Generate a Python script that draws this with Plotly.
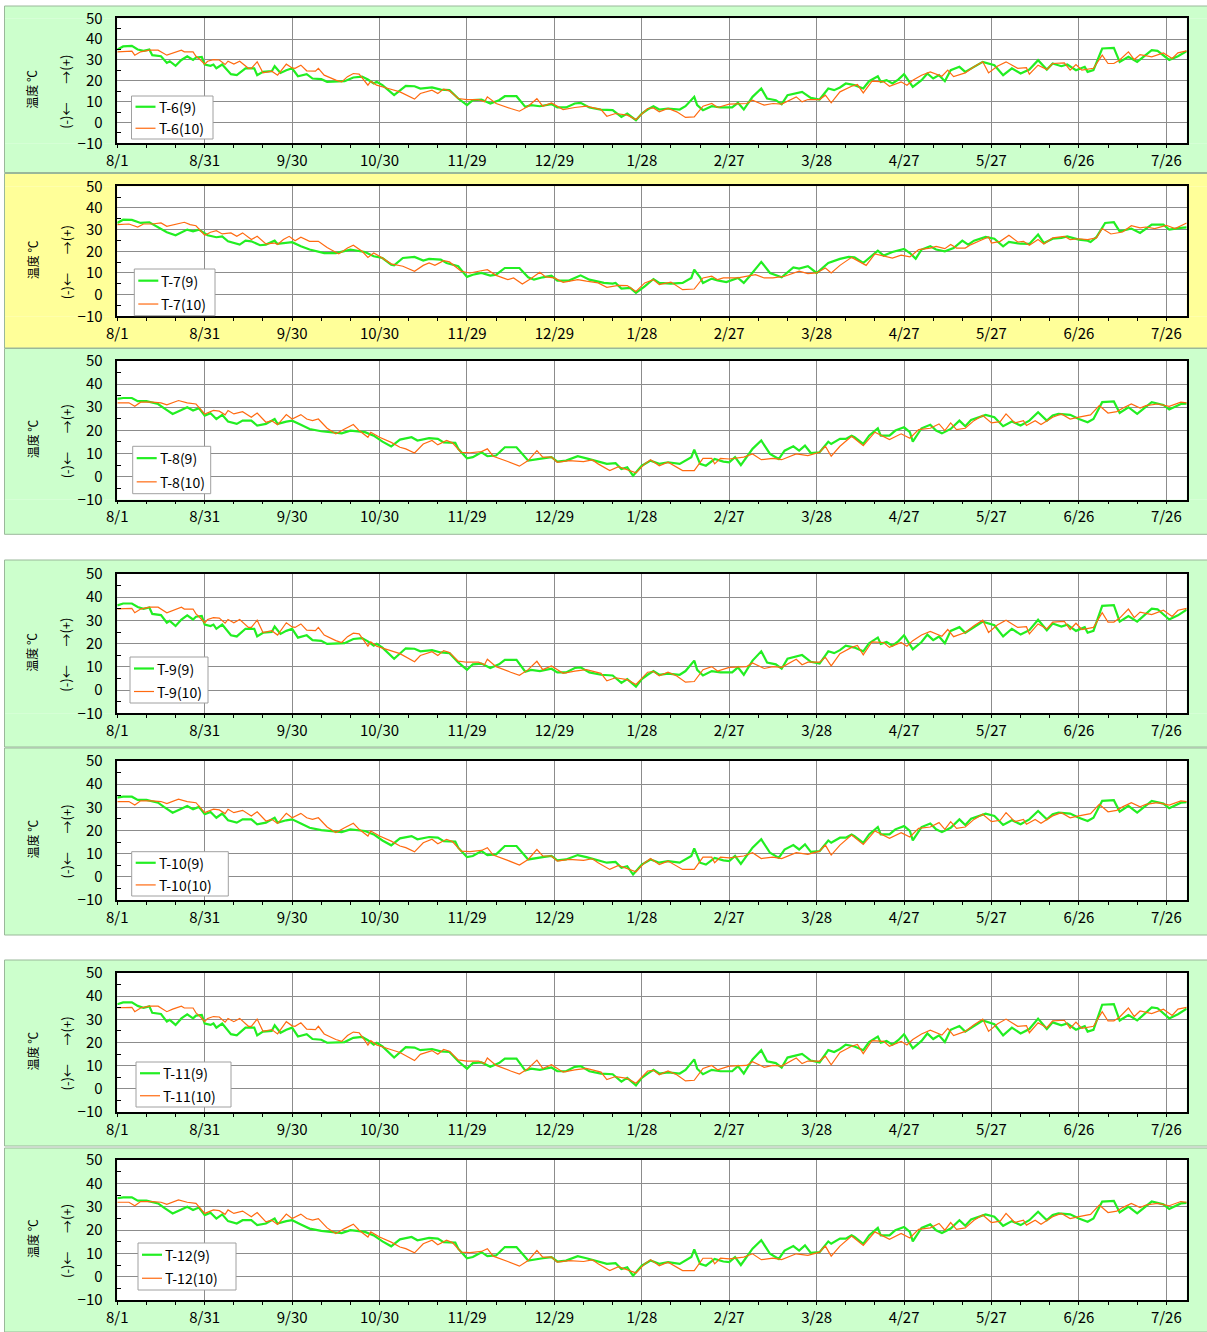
import pandas as pd
import plotly.graph_objects as go

# ---------------------------------------------------------------
# Daily temperature records (°C), 8/1 .. 7/31, sensor pairs
# day = days elapsed since 8/1
# ---------------------------------------------------------------
START = pd.Timestamp("2011-08-01")

t6_9_day = [0, 2, 5, 7, 9, 11, 12, 15, 17, 18, 20, 22, 24, 26, 27, 29, 30, 32, 33, 34, 36, 39, 41, 44, 47, 48, 50, 53, 54, 56, 58, 60, 62, 65, 67, 70, 72, 75, 78, 81, 84, 86, 88, 89, 91, 95, 97, 99, 102, 104, 108, 111, 114, 117, 120, 122, 125, 128, 131, 133, 137, 140, 142, 145, 149, 151, 154, 157, 159, 162, 166, 170, 173, 175, 178, 180, 182, 184, 186, 189, 193, 195, 198, 199, 201, 204, 207, 211, 213, 215, 218, 221, 223, 226, 228, 230, 235, 238, 241, 244, 246, 248, 250, 253, 256, 258, 261, 262, 264, 266, 268, 270, 273, 276, 278, 280, 282, 284, 286, 289, 291, 294, 297, 301, 304, 307, 310, 313, 316, 319, 321, 324, 326, 329, 332, 333, 335, 338, 342, 344, 347, 350, 355, 357, 361, 364, 367]
t6_9_temp = [35, 36.5, 36.8, 35, 34.4, 35, 32.3, 31.8, 28.6, 29.4, 27.2, 30, 31.8, 30, 31.2, 31.5, 27.8, 27.2, 27.8, 26, 27.8, 23.2, 22.7, 26, 26, 22.7, 24.3, 24.6, 27, 23.8, 25.1, 26, 22.2, 23.2, 21.1, 20.8, 19.5, 19.8, 19.8, 21.6, 22, 20.6, 18.7, 19.5, 17.9, 13.1, 15.2, 17.6, 17.4, 16.3, 16.8, 15.8, 15.5, 11.5, 8.3, 10.7, 11, 9.1, 10.7, 12.6, 12.6, 7.5, 8.3, 7.8, 8.8, 7.2, 7.2, 9.1, 9.4, 7.2, 6.2, 5.9, 2.7, 4.3, 1.1, 4.3, 6.2, 7.8, 6.2, 6.7, 6.2, 7.8, 12.3, 8.3, 5.9, 7.8, 7.2, 7.2, 9.4, 6.2, 12.3, 16.3, 11.5, 10.7, 8.8, 13.1, 14.7, 11.8, 11, 16.3, 15.5, 16.8, 18.7, 17.9, 16.3, 19.8, 22.2, 19.5, 20.3, 18.7, 20.6, 23.2, 17.1, 20.3, 23.5, 21.1, 22.7, 19.8, 25.1, 26.7, 24.3, 26.7, 29.1, 27.5, 22.7, 26, 23.5, 25.4, 29.9, 25.4, 28.3, 27, 27.8, 25.1, 26.7, 24.3, 25.1, 35.5, 35.8, 29.1, 31.5, 29.1, 34.7, 34.4, 30, 31.8, 34.2]

t6_10_day = [0, 3, 5, 6, 8, 11, 14, 17, 19, 22, 23, 26, 27, 28, 30, 31, 33, 35, 37, 38, 40, 42, 45, 46, 48, 50, 53, 55, 58, 60, 61, 63, 65, 68, 69, 71, 75, 77, 79, 81, 83, 85, 86, 87, 89, 93, 97, 102, 104, 108, 110, 112, 114, 117, 120, 124, 126, 127, 130, 135, 138, 141, 144, 146, 149, 153, 157, 161, 166, 168, 171, 175, 178, 182, 184, 186, 189, 192, 195, 198, 201, 204, 206, 210, 216, 218, 222, 225, 228, 233, 235, 237, 241, 243, 245, 248, 252, 254, 256, 259, 263, 265, 269, 271, 273, 276, 279, 283, 285, 287, 291, 294, 297, 299, 302, 305, 309, 312, 313, 316, 319, 321, 325, 327, 329, 331, 335, 338, 340, 342, 344, 347, 349, 351, 355, 359, 362, 364, 367]
t6_10_temp = [33.9, 34.2, 34.2, 32.3, 33.9, 34.7, 34.7, 32.3, 33.4, 34.7, 33.9, 33.9, 31.8, 30.7, 28, 29.4, 30.2, 30, 27.8, 29.4, 28, 29.4, 26, 26, 29.1, 23.8, 24.6, 22.7, 28, 26.2, 26, 27.5, 24.8, 24.6, 26, 22.7, 20.3, 19.5, 22, 23.5, 23.2, 19.8, 17.9, 19.8, 17.9, 16.3, 14.7, 11.2, 13.9, 15.5, 13.9, 16, 15.2, 11.5, 11, 11, 9.9, 12.3, 9.1, 6.7, 5.4, 7.8, 11.4, 7.8, 9.4, 6.2, 7.2, 7.8, 6.2, 3, 4.3, 3.5, 1.4, 6.7, 7, 5.1, 6.7, 5.1, 2.4, 2.7, 7.8, 9.1, 7.2, 8.8, 9.1, 10.7, 8.3, 9.1, 8.8, 12.3, 9.9, 11, 11, 13.1, 9.4, 14.7, 17.4, 18.2, 14.2, 19.8, 19.5, 17.4, 19.5, 17.9, 20.3, 22.7, 24.3, 22.2, 25.1, 22, 23.8, 26.7, 29.1, 23.8, 27, 29.1, 26, 26.3, 23.2, 27.5, 25.4, 28.3, 28.6, 25.1, 27.8, 25.1, 26, 32.3, 28.3, 28.3, 30, 33.9, 30.2, 32.6, 31.5, 33.4, 30.7, 33.4, 34.4]

t7_9_day = [0, 2, 5, 8, 11, 14, 17, 20, 22, 24, 26, 28, 31, 34, 36, 38, 42, 44, 46, 49, 51, 54, 55, 58, 60, 63, 66, 71, 75, 80, 85, 88, 91, 94, 95, 98, 102, 105, 107, 111, 113, 117, 120, 122, 125, 128, 130, 133, 138, 141, 143, 146, 149, 151, 155, 159, 162, 167, 170, 171, 173, 176, 178, 181, 184, 186, 190, 194, 197, 198, 200, 201, 204, 206, 209, 213, 215, 217, 221, 224, 228, 232, 234, 237, 240, 244, 248, 251, 253, 256, 259, 261, 263, 266, 270, 272, 274, 276, 279, 281, 284, 287, 290, 292, 294, 298, 301, 304, 306, 310, 313, 316, 318, 321, 324, 326, 330, 333, 334, 336, 339, 342, 344, 348, 351, 355, 359, 361, 365, 367]
t7_9_temp = [33.1, 34.6, 34.5, 33.1, 33.4, 31.1, 28.8, 27.4, 28.9, 30, 29.2, 30, 27.4, 26.5, 26.9, 24.6, 23.1, 24.9, 24.6, 22.8, 23.1, 24.9, 23.4, 23.8, 24.2, 22.3, 20.8, 19.2, 19.2, 20.8, 19.7, 17.7, 16.9, 13.8, 13.5, 16.9, 17.4, 15.7, 16.5, 16.2, 14.6, 13.1, 8.2, 9.2, 10, 8.8, 9.2, 12.3, 12.3, 8, 6.9, 8, 8.8, 6.5, 6.5, 8.9, 6.9, 5.4, 5.1, 5.4, 2.8, 3.1, 0.8, 3.8, 7.2, 5.4, 5.1, 5.4, 7.7, 11.5, 8, 5.4, 7.4, 6.6, 5.8, 7.7, 5.4, 8.5, 15.1, 10, 8, 12.6, 12, 13.1, 10, 14.6, 16.5, 17.4, 17.2, 14.6, 18, 20.3, 18, 19.7, 21.1, 19.2, 16.6, 20.8, 22.3, 20.8, 20, 21.5, 24.9, 23.1, 24.9, 26.6, 25.8, 22.3, 24.3, 23.5, 23.4, 27.7, 23.8, 25.8, 26.2, 26.9, 25.4, 24.9, 24.3, 26.5, 33.1, 33.5, 29.2, 30.5, 28.5, 32.3, 32.3, 30, 30.8, 31]

t7_10_day = [0, 4, 7, 9, 12, 15, 17, 20, 23, 25, 27, 30, 32, 34, 36, 39, 41, 43, 46, 48, 51, 54, 55, 57, 59, 61, 63, 66, 69, 72, 76, 79, 81, 84, 86, 88, 90, 94, 98, 102, 105, 107, 109, 112, 114, 118, 121, 124, 127, 130, 134, 136, 139, 142, 145, 147, 150, 153, 158, 161, 165, 168, 172, 175, 178, 181, 184, 186, 190, 194, 198, 201, 204, 206, 208, 213, 216, 219, 222, 225, 229, 234, 237, 240, 243, 245, 248, 252, 254, 257, 260, 263, 266, 269, 272, 275, 279, 281, 284, 286, 288, 291, 293, 296, 299, 300, 303, 306, 309, 311, 313, 316, 318, 321, 325, 327, 330, 333, 336, 338, 341, 345, 348, 351, 353, 356, 360, 363, 367]
t7_10_temp = [32.3, 32.6, 31.2, 32.6, 32.6, 33.1, 31.5, 32.6, 33.4, 32.3, 31.8, 27.4, 28.8, 29.5, 28, 28.5, 26.9, 28.5, 25.4, 26.9, 23.4, 23.8, 23.1, 25.4, 26.9, 24.9, 26.5, 24.6, 24.6, 21.8, 18.8, 21.5, 22.8, 20, 17.2, 19.2, 17.7, 14.2, 13.1, 10.8, 13.5, 14.6, 13.5, 15.7, 15.1, 10.8, 10, 10.8, 11.5, 8.9, 6.9, 7.7, 4.9, 7.4, 10.3, 8.2, 7.7, 5.7, 6.9, 6.2, 5.4, 3.4, 4.3, 4.2, 1.5, 5.4, 6.9, 4.6, 5.8, 2.3, 2.6, 7.7, 8.5, 6.9, 7.7, 7.7, 8.5, 9.2, 7.7, 7.7, 8.5, 10.8, 9.7, 10, 12.3, 10, 13.5, 17.2, 15.7, 13.5, 18.8, 17.7, 16.9, 18.2, 17.4, 20.8, 21.5, 22.3, 21.2, 23.1, 21.5, 21.5, 23.1, 24.9, 26.6, 23.8, 24.6, 27.4, 24.3, 24.6, 22.8, 25.4, 23.4, 26.2, 26.9, 25.4, 25.8, 25.4, 26.2, 30.5, 28, 28.9, 31.8, 30.8, 31.2, 30.5, 32, 30.5, 33.1]

t8_9_day = [0, 2, 5, 7, 10, 14, 16, 18, 19, 22, 24, 26, 28, 30, 32, 34, 36, 38, 41, 43, 46, 48, 51, 54, 55, 58, 60, 63, 66, 70, 73, 77, 80, 85, 88, 91, 94, 97, 101, 103, 107, 110, 112, 116, 117, 120, 122, 125, 127, 130, 133, 137, 141, 144, 146, 149, 151, 154, 158, 161, 165, 168, 171, 173, 175, 177, 180, 183, 186, 189, 193, 197, 198, 200, 202, 205, 208, 210, 212, 214, 218, 221, 224, 227, 229, 232, 234, 236, 238, 241, 244, 245, 248, 250, 252, 253, 256, 258, 261, 262, 265, 267, 270, 272, 273, 276, 279, 281, 283, 286, 289, 291, 293, 298, 301, 304, 307, 310, 313, 316, 319, 321, 323, 327, 330, 333, 335, 338, 342, 344, 347, 350, 355, 359, 361, 365, 367]
t8_9_temp = [33.6, 34, 34, 32.6, 32.6, 31.4, 29.6, 27.8, 27.1, 28.8, 30, 28.6, 29.6, 26.4, 27.4, 24.9, 26.7, 23.8, 22.8, 24.2, 24.2, 22.1, 22.8, 24.9, 22.8, 23.8, 24.2, 22.4, 20.6, 19.6, 19.2, 18.7, 19.9, 19.2, 17.7, 15.1, 13, 16, 17, 15.6, 16.6, 16.3, 14.8, 14.6, 12, 7.9, 8.4, 10.5, 8.8, 9.1, 12.7, 12.7, 6.9, 7.6, 7.9, 8.4, 6.5, 6.9, 8.8, 7.9, 6.5, 5.5, 5.8, 3.3, 4, 0.4, 4.7, 6.9, 5.5, 6.2, 5.5, 8.4, 11.7, 5.5, 4.7, 7.6, 6.5, 6.2, 8.4, 5, 12, 15.6, 9.8, 7.6, 11.2, 13.1, 11.2, 13.4, 10.2, 10.5, 15.1, 14.1, 16.3, 16.3, 17.7, 17, 14.1, 17.7, 20.9, 17.7, 17.7, 19.9, 21.3, 19.2, 15.1, 20.9, 22.4, 19.9, 18.7, 20.6, 24.2, 21.8, 24.5, 26.7, 25.7, 21.8, 23.8, 22.1, 24.2, 27.8, 24.2, 26.4, 27.1, 26.7, 24.9, 23.5, 24.9, 32.2, 32.5, 27.5, 30, 27.1, 32.2, 31, 29, 31.4, 31.6]

t8_10_day = [0, 4, 6, 8, 12, 15, 17, 21, 24, 27, 30, 33, 35, 37, 38, 40, 43, 46, 48, 51, 53, 55, 58, 60, 63, 65, 67, 69, 72, 75, 78, 81, 83, 86, 87, 90, 94, 97, 99, 102, 105, 108, 110, 113, 115, 118, 121, 125, 127, 129, 134, 138, 141, 144, 146, 149, 151, 155, 160, 163, 165, 169, 172, 174, 178, 181, 183, 186, 189, 194, 198, 201, 204, 205, 207, 210, 213, 215, 218, 221, 225, 228, 233, 237, 241, 243, 245, 248, 252, 256, 260, 265, 269, 272, 275, 279, 282, 284, 286, 288, 291, 294, 297, 300, 303, 305, 308, 311, 312, 315, 317, 321, 324, 327, 330, 334, 337, 340, 343, 345, 348, 351, 353, 357, 361, 365, 367]
t8_10_temp = [31.9, 31.9, 30.4, 32.2, 32.2, 31.9, 31, 32.9, 31.9, 31.4, 27.1, 28.6, 28.3, 26.7, 28.6, 27.1, 28.1, 25.7, 27.5, 23.5, 24.2, 22.4, 26.8, 24.9, 26.8, 24.9, 24.2, 24.9, 20.9, 18.5, 20.6, 22.5, 19.9, 17, 19.2, 17, 14.8, 12.7, 12, 10.2, 14.1, 15.6, 13.7, 15.6, 14.6, 10.5, 10.3, 10.8, 12, 8.8, 6.5, 4.5, 6.9, 11.2, 8.4, 8.4, 6.2, 6.9, 6.5, 7.2, 5.5, 2.6, 4.3, 3.3, 1.6, 5.5, 7.3, 4.7, 6.2, 2.6, 2.6, 7.9, 7.9, 5.5, 7.9, 7.6, 7.9, 8.4, 9.8, 7.3, 7.9, 7.3, 9.8, 9.1, 10.5, 13.1, 8.8, 13.1, 17.4, 13.4, 19.2, 16, 18.5, 16.6, 20.3, 20.9, 22.8, 19.9, 23.2, 20.3, 20.9, 24.2, 26.4, 23.2, 23.8, 27.1, 23.2, 24.2, 22.1, 24.2, 22.5, 25.7, 27.1, 24.9, 25.7, 26.7, 30.7, 27.5, 28.1, 29.6, 31.4, 29.6, 30.7, 31.4, 30.4, 32.2, 31.9]

t9_9_day = list(t6_9_day)
t9_9_temp = [36.5, 37.3, 37.3, 35.8, 35, 35.6, 32.8, 32.3, 29, 29.8, 27.6, 30.4, 32.2, 30.4, 31.6, 31.9, 28.2, 27.6, 28.2, 26.4, 28.2, 23.6, 23.1, 26.4, 26.4, 23.1, 24.7, 25, 27.4, 24.2, 25.5, 26.4, 22.6, 23.6, 21.5, 21.2, 19.9, 20.2, 20.2, 22, 22.4, 21, 19.1, 19.9, 18.3, 13.5, 15.6, 18, 17.8, 16.7, 17.2, 16.2, 15.9, 11.9, 8.7, 11.1, 11.4, 9.5, 11.1, 13, 13, 7.9, 8.7, 8.2, 9.2, 7.6, 7.6, 9.5, 9.8, 7.6, 6.6, 6.3, 3.1, 4.7, 1.5, 4.7, 6.6, 8.2, 6.6, 7.1, 6.6, 8.2, 12.7, 8.7, 6.3, 8.2, 7.6, 7.6, 9.8, 6.6, 12.7, 16.7, 11.9, 11.1, 9.2, 13.5, 15.1, 12.2, 11.4, 16.7, 15.9, 17.2, 19.1, 18.3, 16.7, 20.2, 22.6, 19.9, 20.7, 19.1, 21, 23.6, 17.5, 20.7, 23.9, 21.5, 23.1, 20.2, 25.5, 27.1, 24.7, 27.1, 29.5, 27.9, 23.1, 26.4, 23.9, 25.8, 30.3, 25.8, 28.7, 27.4, 28.2, 25.5, 27.1, 24.7, 25.5, 36.3, 36.6, 29.5, 31.9, 29.5, 35.1, 34.8, 30.4, 32.2, 34.6]
t9_10_day = list(t6_10_day)
t9_10_temp = [35, 35.2, 35.2, 33.3, 34.9, 35.7, 35.7, 33.3, 34.4, 35.7, 34.9, 34.9, 32.8, 31.7, 29, 30.4, 31.2, 31, 28.8, 30.4, 29, 30.4, 27, 27, 30.1, 24.8, 25.6, 23.7, 29, 27.2, 27, 28.5, 25.8, 25.6, 27, 23.7, 21.3, 20.5, 23, 24.5, 24.2, 20.8, 18.9, 20.8, 18.9, 17.3, 15.7, 12.2, 14.9, 16.5, 14.9, 17, 16.2, 12.5, 12, 12, 10.9, 13.3, 10.1, 7.7, 6.4, 8.8, 12.4, 8.8, 10.4, 7.2, 8.2, 8.8, 7.2, 4, 5.3, 4.5, 2.4, 7.7, 8, 6.1, 7.7, 6.1, 3.4, 3.7, 8.8, 10.1, 8.2, 9.8, 10.1, 11.7, 9.3, 10.1, 9.8, 13.3, 10.9, 12, 12, 14.1, 10.4, 15.7, 18.4, 19.2, 15.2, 20.8, 20.5, 18.4, 20.5, 18.9, 21.3, 23.7, 25.3, 23.2, 26.1, 23, 24.8, 27.7, 30.1, 24.8, 28, 30.1, 27, 27.3, 24.2, 28.5, 26.4, 29.3, 29.6, 26.1, 28.8, 26.1, 27, 33.3, 29.3, 29.3, 31, 34.9, 31.2, 33.6, 32.5, 34.4, 31.7, 34.4, 35.2]

t10_9_day = list(t8_9_day)
t10_9_temp = [34.2, 34.6, 34.6, 33.2, 33.2, 32, 30.2, 28.4, 27.7, 29.4, 30.6, 29.2, 30.2, 27, 28, 25.5, 27.3, 24.4, 23.4, 24.8, 24.8, 22.7, 23.4, 25.5, 23.4, 24.4, 24.8, 23, 21.2, 20.2, 19.8, 19.3, 20.5, 19.8, 18.3, 15.7, 13.6, 16.6, 17.6, 16.2, 17.2, 16.9, 15.4, 15.2, 12.6, 8.5, 9, 11.1, 9.4, 9.7, 13.3, 13.3, 7.5, 8.2, 8.5, 9, 7.1, 7.5, 9.4, 8.5, 7.1, 6.1, 6.4, 3.9, 4.6, 1, 5.3, 7.5, 6.1, 6.8, 6.1, 9, 12.3, 6.1, 5.3, 8.2, 7.1, 6.8, 9, 5.6, 12.6, 16.2, 10.4, 8.2, 11.8, 13.7, 11.8, 14, 10.8, 11.1, 15.7, 14.7, 16.9, 16.9, 18.3, 17.6, 14.7, 18.3, 21.5, 18.3, 18.3, 20.5, 21.9, 19.8, 15.7, 21.5, 23, 20.5, 19.3, 21.2, 24.8, 22.4, 25.1, 27.3, 26.3, 22.4, 24.4, 22.7, 24.8, 28.4, 24.8, 27, 27.7, 27.3, 25.5, 24.1, 25.5, 32.8, 33.1, 28.1, 30.6, 27.7, 32.8, 31.6, 29.6, 32, 32.2]
t10_10_day = list(t8_10_day)
t10_10_temp = [32.5, 32.5, 31, 32.8, 32.8, 32.5, 31.6, 33.5, 32.5, 32, 27.7, 29.2, 28.9, 27.3, 29.2, 27.7, 28.7, 26.3, 28.1, 24.1, 24.8, 23, 27.4, 25.5, 27.4, 25.5, 24.8, 25.5, 21.5, 19.1, 21.2, 23.1, 20.5, 17.6, 19.8, 17.6, 15.4, 13.3, 12.6, 10.8, 14.7, 16.2, 14.3, 16.2, 15.2, 11.1, 10.9, 11.4, 12.6, 9.4, 7.1, 5.1, 7.5, 11.8, 9, 9, 6.8, 7.5, 7.1, 7.8, 6.1, 3.2, 4.9, 3.9, 2.2, 6.1, 7.9, 5.3, 6.8, 3.2, 3.2, 8.5, 8.5, 6.1, 8.5, 8.2, 8.5, 9, 10.4, 7.9, 8.5, 7.9, 10.4, 9.7, 11.1, 13.7, 9.4, 13.7, 18, 14, 19.8, 16.6, 19.1, 17.2, 20.9, 21.5, 23.4, 20.5, 23.8, 20.9, 21.5, 24.8, 27, 23.8, 24.4, 27.7, 23.8, 24.8, 22.7, 24.8, 23.1, 26.3, 27.7, 25.5, 26.3, 27.3, 31.3, 28.1, 28.7, 30.2, 32, 30.2, 31.3, 32, 31, 32.8, 32.5]

t11_9_day = list(t6_9_day)
t11_9_temp = list(t9_9_temp)
t11_10_day = list(t6_10_day)
t11_10_temp = list(t9_10_temp)

t12_9_day = list(t8_9_day)
t12_9_temp = list(t8_9_temp)
t12_10_day = list(t8_10_day)
t12_10_temp = list(t8_10_temp)

panels = [
    ("T-6",  t6_9_day,  t6_9_temp,  t6_10_day,  t6_10_temp),
    ("T-7",  t7_9_day,  t7_9_temp,  t7_10_day,  t7_10_temp),
    ("T-8",  t8_9_day,  t8_9_temp,  t8_10_day,  t8_10_temp),
    ("T-9",  t9_9_day,  t9_9_temp,  t9_10_day,  t9_10_temp),
    ("T-10", t10_9_day, t10_9_temp, t10_10_day, t10_10_temp),
    ("T-11", t11_9_day, t11_9_temp, t11_10_day, t11_10_temp),
    ("T-12", t12_9_day, t12_9_temp, t12_10_day, t12_10_temp),
]

# ---------------------------------------------------------------
# Page geometry (pixels): panel band, plot area, legend box
# ---------------------------------------------------------------
W, H = 1207, 1332
PLOT_X0, PLOT_X1 = 117.3, 1186.7
BAND_X0, BAND_X1 = 4.5, 1212
GREEN_BG, YELLOW_BG = "#ccffcc", "#ffff99"
geom = [
    # band_top, band_bottom, plot_top, plot_bottom, legend box (x0, y0, x1, y1), background
    (6.0, 172.5, 18.3, 143.3, (131.5, 96.0, 213.0, 139.0), GREEN_BG),
    (173.5, 348.0, 186.3, 316.3, (134.3, 269.0, 215.0, 315.7), YELLOW_BG),
    (348.5, 534.3, 361.0, 499.7, (132.7, 446.3, 210.7, 493.7), GREEN_BG),
    (560.0, 747.0, 574.0, 713.3, (130.0, 657.0, 208.0, 703.0), GREEN_BG),
    (748.0, 935.0, 761.0, 900.0, (131.7, 851.7, 228.3, 896.0), GREEN_BG),
    (960.0, 1146.0, 973.0, 1112.0, (136.0, 1062.0, 231.0, 1107.0), GREEN_BG),
    (1148.0, 1332.0, 1160.0, 1300.0, (138.0, 1243.0, 236.0, 1290.0), GREEN_BG),
]

COL9 = "#22ee22"
COL10 = "#ff6a10"
FONT = "Noto Sans CJK JP"
DAY_MS = 86400000


def px(x):
    return x / W


def py(y):
    return 1 - y / H


def to_dates(days):
    return START + pd.to_timedelta(days, unit="D")


def paper_rect(x0, y0, x1, y1, **kw):
    return dict(type="rect", xref="paper", yref="paper",
                x0=px(x0), x1=px(x1), y0=py(y1), y1=py(y0), **kw)


fig = go.Figure()
shapes = []
annotations = []
x_end = START + pd.Timedelta(days=367)

for i, ((name, d9, v9, d10, v10), (bt, bb, pt, pb, lg, bg)) in enumerate(zip(panels, geom), start=1):
    xa = "x" if i == 1 else f"x{i}"
    ya = "y" if i == 1 else f"y{i}"

    fig.add_trace(go.Scatter(x=to_dates(d9), y=v9, mode="lines", name=f"{name}(9)",
                             line=dict(color=COL9, width=2.2), xaxis=xa, yaxis=ya,
                             showlegend=False))
    fig.add_trace(go.Scatter(x=to_dates(d10), y=v10, mode="lines", name=f"{name}(10)",
                             line=dict(color=COL10, width=1.2), xaxis=xa, yaxis=ya,
                             showlegend=False))

    fig.layout["xaxis" if i == 1 else f"xaxis{i}"] = dict(
        domain=[px(PLOT_X0), px(PLOT_X1)], anchor=ya, type="date",
        range=[START, x_end], tick0=START, dtick=30 * DAY_MS, tickformat="%-m/%-d",
        showgrid=True, gridcolor="#8c8c8c", gridwidth=1,
        showline=True, linecolor="black", linewidth=1.5, mirror=True,
        ticks="outside", ticklen=3, tickcolor="black",
        minor=dict(dtick=10 * DAY_MS, ticks="outside", ticklen=3, tickcolor="black", showgrid=False),
        tickfont=dict(family=FONT, size=15, color="black"), ticklabelstandoff=0,
        zeroline=False, fixedrange=True, automargin=False,
    )
    fig.layout["yaxis" if i == 1 else f"yaxis{i}"] = dict(
        domain=[py(pb), py(pt)], anchor=xa, range=[-10, 50], tick0=-10, dtick=10,
        showgrid=True, gridcolor="#8c8c8c", gridwidth=1,
        showline=True, linecolor="black", linewidth=1.5, mirror=True,
        ticks="", minor=dict(dtick=5, ticks="inside", ticklen=4, tickcolor="black", showgrid=False),
        tickfont=dict(family=FONT, size=15, color="black"), ticklabelstandoff=10,
        zeroline=False, fixedrange=True, automargin=False,
    )

    # coloured band around the plotting area (four strips, the plot itself stays white)
    band = dict(layer="below", fillcolor=bg, line=dict(width=0))
    shapes.append(paper_rect(BAND_X0, bt, BAND_X1, pt, **band))
    shapes.append(paper_rect(BAND_X0, pb, BAND_X1, bb, **band))
    shapes.append(paper_rect(BAND_X0, pt, PLOT_X0, pb, **band))
    shapes.append(paper_rect(PLOT_X1, pt, BAND_X1, pb, **band))
    shapes.append(paper_rect(BAND_X0, bt, BAND_X1, bb, layer="below",
                             fillcolor="rgba(0,0,0,0)", line=dict(color="#9ab89a", width=1)))

    # axis caption (rotated)
    mid = (pt + pb) / 2
    annotations.append(dict(xref="paper", yref="paper", x=px(32), y=py(mid + 9),
                            xanchor="center", yanchor="middle",
                            text="温度 ℃", textangle=-90, showarrow=False,
                            font=dict(family=FONT, size=12, color="black")))
    annotations.append(dict(xref="paper", yref="paper", x=px(66), y=py(mid + 11),
                            xanchor="center", yanchor="middle",
                            text="(-)← 　 →(+)", textangle=-90, showarrow=False,
                            font=dict(family=FONT, size=13, color="black")))

    # legend box
    lx0, ly0, lx1, ly1 = lg
    shapes.append(paper_rect(lx0, ly0, lx1, ly1, layer="above",
                             fillcolor="white", line=dict(color="#a0a0a0", width=1)))
    h = ly1 - ly0
    for k, (label, col, wd) in enumerate([(f"{name}(9)", COL9, 2.2), (f"{name}(10)", COL10, 1.2)]):
        yy = ly0 + h * (0.25 if k == 0 else 0.75)
        shapes.append(dict(type="line", xref="paper", yref="paper", layer="above",
                           x0=px(lx0 + 4), x1=px(lx0 + 24), y0=py(yy), y1=py(yy),
                           line=dict(color=col, width=wd)))
        annotations.append(dict(xref="paper", yref="paper", x=px(lx0 + 25), y=py(yy),
                                xanchor="left", yanchor="middle", text=label, showarrow=False,
                                font=dict(family=FONT, size=14, color="black")))

fig.update_layout(
    width=W, height=H, autosize=False,
    margin=dict(l=0, r=0, t=0, b=0, pad=0),
    paper_bgcolor="white", plot_bgcolor="white",
    shapes=shapes, annotations=annotations, showlegend=False,
)

fig.write_html("out.html", config={"displayModeBar": False, "responsive": False},
               post_script="document.body.style.margin='0px';document.documentElement.style.overflow='hidden';")
